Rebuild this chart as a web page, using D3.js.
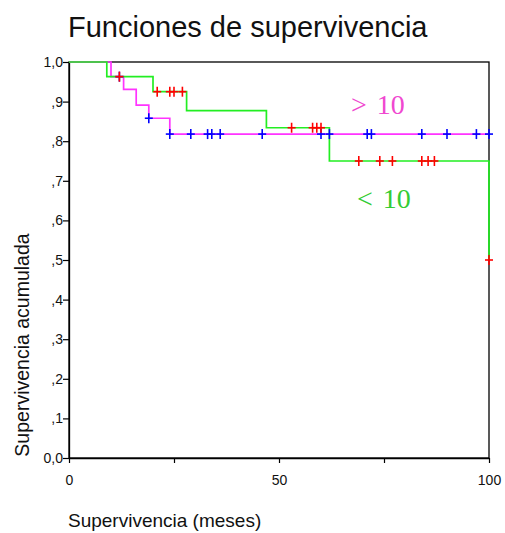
<!DOCTYPE html>
<html><head><meta charset="utf-8">
<script src="https://cdn.jsdelivr.net/npm/d3@7"></script>
<style>body{margin:0;background:#fff}</style>
</head><body>
<svg id="c" width="505" height="533"></svg>
<script>
// Group "< 10" (green), step points [time, survival]
const lowSteps = [[0,1],[9,0.963],[20,0.925],[28,0.877],[47,0.834],[62,0.75],[100,0.5]];
const lowCensored = [[12,0.963],[21,0.925],[24,0.925],[25,0.925],[27,0.925],[53,0.834],[58,0.834],[59,0.834],[60,0.834],[69,0.75],[74,0.75],[77,0.75],[84,0.75],[85.5,0.75],[87,0.75],[100,0.5]];
// Group "> 10" (magenta)
const highSteps = [[0,1],[10,0.963],[13,0.931],[16,0.891],[19,0.858],[24,0.818],[100,0.818]];
const highCensored = [[12,0.963],[19,0.858],[24,0.818],[29,0.818],[33,0.818],[34,0.818],[36,0.818],[46,0.818],[60,0.818],[62,0.818],[71,0.818],[72,0.818],[84,0.818],[90,0.818],[97,0.818],[100,0.818]];
const xTicks = [0,25,50,75,100];
const xTickLabels = ["0","","50","","100"];
const yTicks = [0,0.1,0.2,0.3,0.4,0.5,0.6,0.7,0.8,0.9,1.0];
const yTickLabels = ["0,0",",1",",2",",3",",4",",5",",6",",7",",8",",9","1,0"];

const svg = d3.select("#c");
const L=69, R=489, T=62, B=458;
const x = d3.scaleLinear().domain([0,100]).range([L,R]);
const y = d3.scaleLinear().domain([0,1]).range([B,T]);
const sans = "Arial, 'Liberation Sans', sans-serif";
const serif = "'Times New Roman', 'Liberation Serif', serif";

svg.append("text").attr("x",68).attr("y",37).attr("font-family",sans)
  .attr("font-size",29).attr("fill","#111").text("Funciones de supervivencia");

// frame
svg.append("rect").attr("x",L).attr("y",T).attr("width",R-L).attr("height",B-T)
  .attr("fill","none").attr("stroke","#000").attr("stroke-width",1.3);

const xAxis = svg.append("g").attr("transform",`translate(0,${B})`)
  .call(d3.axisBottom(x).tickValues(xTicks).tickFormat((d,i)=>xTickLabels[i]).tickSize(5).tickSizeOuter(0));
const yAxis = svg.append("g").attr("transform",`translate(${L},0)`)
  .call(d3.axisLeft(y).tickValues(yTicks).tickFormat((d,i)=>yTickLabels[i]).tickSize(6).tickSizeOuter(0));
[xAxis,yAxis].forEach(g=>{
  g.attr("font-family",sans).attr("font-size",14);
  g.select(".domain").attr("stroke","#000").attr("stroke-width",1.3);
  g.selectAll(".tick line").attr("stroke","#000").attr("stroke-width",1.2);
  g.selectAll("text").attr("fill","#111");
});
yAxis.selectAll("text").attr("x",-6).attr("dy","0.32em");
xAxis.selectAll("text").attr("y",17).attr("dy","0.71em");

const line = d3.line().x(d=>x(d[0])).y(d=>y(d[1])).curve(d3.curveStepAfter);
svg.append("path").datum(highSteps).attr("d",line).attr("fill","none").attr("stroke","#ff33ff").attr("stroke-width",1.7);
svg.append("path").datum(lowSteps).attr("d",line).attr("fill","none").attr("stroke","#22ee22").attr("stroke-width",1.7);

function crosses(data,color){
  const g = svg.append("g").attr("stroke",color).attr("stroke-width",1.6);
  g.selectAll("line.h").data(data).join("line").attr("x1",d=>x(d[0])-4).attr("x2",d=>x(d[0])+4)
    .attr("y1",d=>y(d[1])).attr("y2",d=>y(d[1]));
  g.selectAll("line.v").data(data).join("line").attr("x1",d=>x(d[0])).attr("x2",d=>x(d[0]))
    .attr("y1",d=>y(d[1])-5).attr("y2",d=>y(d[1])+5);
}
crosses(highCensored,"#0000ff");
crosses(lowCensored,"#ff0000");

svg.append("text").attr("x",351).attr("y",114).attr("font-family",serif).style("word-spacing","3px")
  .attr("font-size",28).attr("fill","#f048d0").text("> 10");
svg.append("text").attr("x",357).attr("y",208).attr("font-family",serif).style("word-spacing","3px")
  .attr("font-size",28).attr("fill","#33cc33").text("< 10");

svg.append("text").attr("transform","translate(29,345) rotate(-90)").attr("text-anchor","middle")
  .attr("font-family",sans).attr("font-size",19.5).attr("fill","#111").text("Supervivencia acumulada");
svg.append("text").attr("x",68).attr("y",527).attr("font-family",sans)
  .attr("font-size",19).attr("fill","#111").text("Supervivencia (meses)");
</script>
</body></html>
